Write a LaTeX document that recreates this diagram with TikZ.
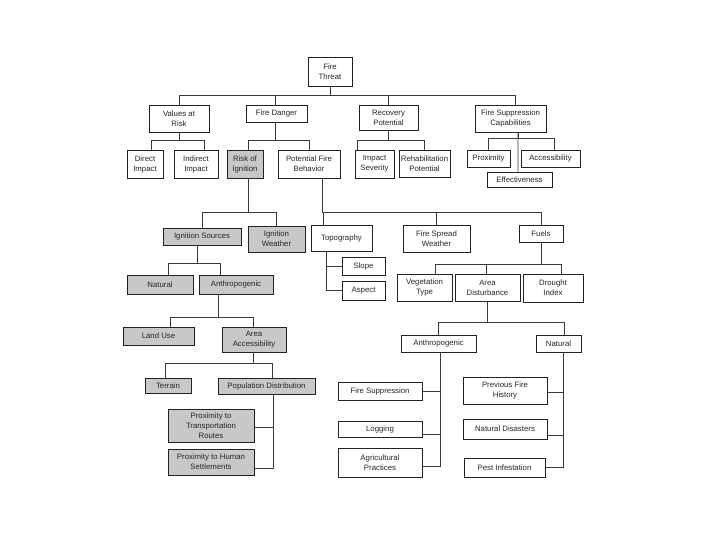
\documentclass[tikz,border=0pt]{standalone}
\usepackage{fontspec}
\setmainfont{Liberation Sans}
\usetikzlibrary{calc}
\definecolor{boxgrey}{HTML}{C8C8C8}
\definecolor{edgecol}{HTML}{222222}
\definecolor{linkcol}{HTML}{3A3A3A}
\tikzset{
  box/.style={draw=edgecol, line width=0.8bp, fill=white, inner sep=0pt, align=center,
    font=\fontsize{7.8bp}{10bp}\selectfont, text=black!85},
  greybox/.style={fill=boxgrey},
  link/.style={draw=linkcol, line width=0.7bp}
}
\newcommand\bx[7][]{%
  \pgfmathsetmacro\bxcx{(#3+#5)/2}%
  \pgfmathsetmacro\bxcy{(#4+#6)/2}%
  \pgfmathsetmacro\bxww{#5-#3}%
  \pgfmathsetmacro\bxhh{#6-#4}%
  \node[box,#1,minimum width=\bxww bp,minimum height=\bxhh bp] (#2) at (\bxcx,\bxcy) {#7};}
\begin{document}
\begin{tikzpicture}[x=1bp,y=-1bp]
\useasboundingbox[fill=white] (0,0) rectangle (720,540);
% boxes
\bx{ft}{308}{57}{352}{86}{Fire\\Threat}
\bx{var}{149}{105}{209}{132}{Values at\\Risk}
\bx{fd}{246}{105}{307}{122}{Fire Danger}
\bx{rp}{359}{105}{418}{130}{Recovery\\Potential}
\bx{fsc}{475}{105}{546}{132}{Fire Suppression\\Capabilities}
\bx{di}{127}{150}{163}{178}{Direct\\Impact}
\bx{ii}{174}{150}{218}{178}{Indirect\\Impact}
\bx[greybox]{roi}{227}{150}{263}{178}{Risk of\\Ignition}
\bx{pfb}{278}{150}{340}{178}{Potential Fire\\Behavior}
\bx{isv}{355}{150}{394}{178}{Impact\\Severity}
\bx{rhp}{399}{150}{450}{177}{Rehabilitation\\Potential}
\bx{prox}{467}{150}{510}{167}{Proximity}
\bx{acc}{521}{150}{580}{167}{Accessibility}
\bx{eff}{487}{172}{552}{187}{Effectiveness}
\bx[greybox]{isrc}{163}{228}{241}{245}{Ignition Sources}
\bx[greybox]{iw}{248}{226}{305}{252}{Ignition\\Weather}
\bx{topo}{311}{225}{372}{251}{Topography}
\bx{fsw}{403}{225}{470}{252}{Fire Spread\\Weather}
\bx{fuels}{519}{225}{563}{242}{Fuels}
\bx{slope}{342}{257}{385}{275}{Slope}
\bx{aspect}{342}{281}{385}{300}{Aspect}
\bx[greybox]{nat}{127}{275}{193}{294}{Natural}
\bx[greybox]{anth}{199}{275}{273}{294}{Anthropogenic}
\bx{vt}{397}{274}{452}{301}{Vegetation\\Type}
\bx{ad}{455}{274}{520}{301}{Area\\Disturbance}
\bx{dri}{523}{274}{583}{302}{Drought\\Index}
\bx[greybox]{lu}{123}{327}{194}{345}{Land Use}
\bx[greybox]{aa}{222}{327}{286}{352}{Area\\Accessibility}
\bx{anthr}{401}{335}{476}{352}{Anthropogenic}
\bx{natr}{536}{335}{581}{352}{Natural}
\bx[greybox]{ter}{145}{378}{191}{393}{Terrain}
\bx[greybox]{pd}{218}{378}{315}{394}{Population Distribution}
\bx[greybox]{ptr}{168}{409}{254}{442}{Proximity to\\Transportation\\Routes}
\bx[greybox]{phs}{168}{449}{254}{475}{Proximity to Human\\Settlements}
\bx{fs}{338}{382}{422}{400}{Fire Suppression}
\bx{log}{338}{421}{422}{437}{Logging}
\bx{agr}{338}{448}{422}{477}{Agricultural\\Practices}
\bx{pfh}{463}{377}{547}{404}{Previous Fire\\History}
\bx{nd}{463}{419}{547}{439}{Natural Disasters}
\bx{pi}{464}{458}{545}{477}{Pest Infestation}
% connectors
\begin{scope}[link]
\draw (ft.south) -- ++(0,9) -| (var.north);
\draw (ft.south) -- ++(0,9) -| ([xshift=-1.5bp]fd.north);
\draw (ft.south) -- ++(0,9) -| (rp.north);
\draw (ft.south) -- ++(0,9) -| ([xshift=4.5bp]fsc.north);
\draw (var.south) -- ++(0,8) -| ([xshift=6bp]di.north);
\draw (var.south) -- ++(0,8) -| ([xshift=8bp]ii.north);
\draw ([xshift=-1.5bp]fd.south) -- ++(0,18) -| ([xshift=3bp]roi.north);
\draw ([xshift=-1.5bp]fd.south) -- ++(0,18) -| (pfb.north);
\draw (rp.south) -- ++(0,10) -| ([xshift=-17bp]isv.north);
\draw (rp.south) -- ++(0,10) -| (rhp.north);
\draw ([xshift=7.5bp]fsc.south) -- ++(0,6) -| (prox.north);
\draw ([xshift=7.5bp]fsc.south) -- ++(0,6) -| ([xshift=3.5bp]acc.north);
\draw ([xshift=7.5bp]fsc.south) -- ([xshift=-1.5bp]eff.north);
\draw ([xshift=3bp]roi.south) -- ++(0,34) -| (isrc.north);
\draw ([xshift=3bp]roi.south) -- ++(0,34) -| (iw.north);
\draw ([xshift=13bp]pfb.south) -- ++(0,34) -| ([xshift=-18.5bp]topo.north);
\draw ([xshift=13bp]pfb.south) -- ++(0,34) -| (fsw.north);
\draw ([xshift=13bp]pfb.south) -- ++(0,34) -| (fuels.north);
\draw ([xshift=-15.5bp]topo.south) |- (slope.west);
\draw ([xshift=-15.5bp]topo.south) |- (aspect.west);
\draw (fuels.south) -- ++(0,22) -| ([xshift=10.5bp]vt.north);
\draw (fuels.south) -- ++(0,22) -| ([xshift=-1.5bp]ad.north);
\draw (fuels.south) -- ++(0,22) -| ([xshift=8bp]dri.north);
\draw (ad.south) -- ++(0,21) -| (anthr.north);
\draw (ad.south) -- ++(0,21) -| ([xshift=5.5bp]natr.north);
\draw ([xshift=1.5bp]anthr.south) |- (fs.east);
\draw ([xshift=1.5bp]anthr.south) |- ([yshift=-5bp]log.east);
\draw ([xshift=1.5bp]anthr.south) |- ([yshift=-4bp]agr.east);
\draw ([xshift=4.5bp]natr.south) |- ([yshift=-1.5bp]pfh.east);
\draw ([xshift=4.5bp]natr.south) |- ([yshift=-6bp]nd.east);
\draw ([xshift=4.5bp]natr.south) |- (pi.east);
\draw ([xshift=-5bp]isrc.south) -- ++(0,18) -| ([xshift=8bp]nat.north);
\draw ([xshift=-5bp]isrc.south) -- ++(0,18) -| ([xshift=-16bp]anth.north);
\draw ([xshift=-18bp]anth.south) -- ++(0,23) -| ([xshift=11.5bp]lu.north);
\draw ([xshift=-18bp]anth.south) -- ++(0,23) -| ([xshift=-1bp]aa.north);
\draw ([xshift=-1bp]aa.south) -- ++(0,11) -| ([xshift=-3bp]ter.north);
\draw ([xshift=-1bp]aa.south) -- ++(0,11) -| ([xshift=5.5bp]pd.north);
\draw ([xshift=6.5bp]pd.south) |- ([yshift=-1.5bp]ptr.east);
\draw ([xshift=6.5bp]pd.south) |- ([yshift=-6bp]phs.east);
\end{scope}
\end{tikzpicture}
\end{document}
